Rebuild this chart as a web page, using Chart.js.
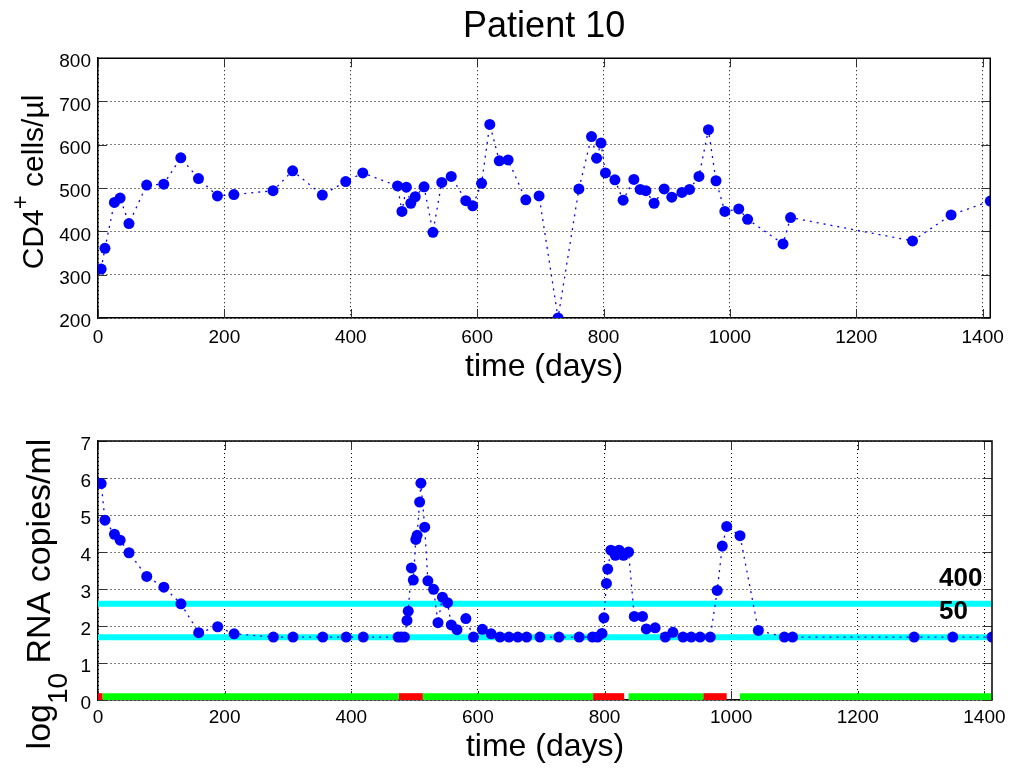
<!DOCTYPE html>
<html lang="en">
<head>
<meta charset="UTF-8" />
<title>Patient 10</title>
<script src="https://cdn.jsdelivr.net/npm/chart.js@4.4.1/dist/chart.umd.min.js"></script>
<style>
  html, body { margin: 0; padding: 0; background: #fff; }
  #wrap { position: relative; width: 1012px; height: 771px; }
  .box { position: absolute; left: 0; width: 1012px; }
  #top-box { top: 0; height: 386px; }
  #bottom-box { top: 386px; height: 385px; }
</style>
</head>
<body>
<div id="wrap">
  <div class="box" id="top-box"><canvas id="cd4"></canvas></div>
  <div class="box" id="bottom-box"><canvas id="rna"></canvas></div>
</div>

<script>
// --- data ---
const dayTicks = [0, 200, 400, 600, 800, 1000, 1200, 1400];
const cd4Ticks = [200, 300, 400, 500, 600, 700, 800];
const rnaTicks = [0, 1, 2, 3, 4, 5, 6, 7];

const cd4Days = [5, 11, 26, 35, 49, 77, 104, 131, 159, 189, 215, 277, 308, 355, 392,
  419, 474, 481, 488, 495, 502, 516, 530, 544, 559, 582, 593, 607, 620, 635,
  649, 677, 698, 728, 761, 781, 789, 796, 803, 818, 831, 848, 858, 867, 880,
  896, 908, 924, 936, 951, 966, 978, 992, 1014, 1028, 1084, 1096, 1289, 1350, 1412];
const cd4Values = [313, 361, 467, 477, 418, 507, 509, 570, 522, 482, 485, 494, 540, 484, 515,
  535, 505, 446, 502, 465, 480, 503, 398, 513, 527, 471, 459, 511, 647, 563,
  565, 473, 482, 200, 498, 619, 569, 604, 535, 519, 472, 520, 497, 494, 465,
  498, 479, 490, 497, 527, 635, 517, 446, 452, 428, 371, 432, 378, 438, 470];

const rnaDays = [0, 5, 11, 26, 35, 49, 77, 104, 131, 159, 189, 215, 277, 308, 355,
  392, 419, 474, 479, 484, 488, 490, 495, 498, 502, 504, 508, 510, 516, 521,
  530, 537, 544, 552, 558, 567, 581, 593, 607, 621, 635, 649, 663, 677, 698,
  728, 760, 781, 789, 796, 799, 803, 805, 810, 817, 823, 830, 838, 847, 860,
  866, 880, 896, 908, 924, 937, 951, 967, 978, 986, 993, 1014, 1043, 1084, 1097,
  1289, 1350, 1412];
const rnaValues = [5.86, 5.85, 4.86, 4.48, 4.32, 3.98, 3.34, 3.05, 2.6, 1.82, 1.98, 1.79, 1.7, 1.7, 1.7,
  1.7, 1.7, 1.7, 1.7, 1.7, 2.15, 2.4, 3.57, 3.24, 4.34, 4.45, 5.35, 5.86, 4.67, 3.22,
  2.99, 2.09, 2.78, 2.63, 2.03, 1.9, 2.2, 1.7, 1.91, 1.79, 1.7, 1.7, 1.7, 1.7, 1.7,
  1.7, 1.7, 1.7, 1.7, 1.8, 2.22, 3.15, 3.54, 4.05, 3.91, 4.05, 3.91, 4.0, 2.26, 2.26,
  1.92, 1.95, 1.7, 1.83, 1.7, 1.7, 1.7, 1.7, 2.96, 4.16, 4.69, 4.44, 1.88, 1.7, 1.7,
  1.7, 1.7, 1.7];

// detection limits (copies/ml)
const limitCopies = [400, 50];
const limitLabels = ['400', '50'];

// therapy bar along the bottom axis
const therapyStart = [0, 7, 475, 513, 782, 838, 956, 1014];
const therapyEnd   = [7, 475, 513, 782, 831, 956, 993, 1412];
const therapyState = ['off', 'on', 'off', 'on', 'off', 'on', 'off', 'on'];

const dayMax = 1412;
const FONT = '"Liberation Sans", Arial, Helvetica, sans-serif';

// y labels need super/subscripts, so they are drawn piece by piece
const yLabels = {
  cd4: { x: 43, y: 182, parts: [['CD4', 30, 0], ['+', 24, -15], [' cells/\u00b5l', 30, 0]] },
  rna: { x: 50, y: 208, parts: [['log', 34, 0], ['10', 28, 17], [' RNA copies/ml', 34, 0]] }
};

// frame, inward ticks, y label, limit labels
const framePlugin = {
  id: 'frame',
  beforeDatasetsDraw(chart) {
    const { ctx, chartArea: a, scales: { x, y } } = chart;
    ctx.save();
    ctx.strokeStyle = '#333';
    ctx.lineWidth = 1;
    ctx.setLineDash([]);
    ctx.beginPath();
    x.ticks.forEach(t => {
      const px = Math.round(x.getPixelForValue(t.value)) + 0.5;
      ctx.moveTo(px, a.bottom); ctx.lineTo(px, a.bottom - 9);
      ctx.moveTo(px, a.top); ctx.lineTo(px, a.top + 9);
    });
    y.ticks.forEach(t => {
      const py = Math.round(y.getPixelForValue(t.value)) + 0.5;
      ctx.moveTo(a.left, py); ctx.lineTo(a.left + 9, py);
      ctx.moveTo(a.right, py); ctx.lineTo(a.right - 9, py);
    });
    ctx.stroke();
    ctx.restore();
  },
  afterDraw(chart) {
    const { ctx, chartArea: a, scales: { y } } = chart;
    const lab = yLabels[chart.canvas.id];
    ctx.save();
    ctx.strokeStyle = '#000';
    ctx.lineWidth = 1.5;
    ctx.setLineDash([]);
    ctx.beginPath();
    ctx.moveTo(a.left, a.top); ctx.lineTo(a.right, a.top); ctx.lineTo(a.right, a.bottom);
    ctx.stroke();
    ctx.restore();

    ctx.save();
    ctx.fillStyle = '#000';
    ctx.textAlign = 'left';
    ctx.textBaseline = 'alphabetic';
    ctx.translate(lab.x, lab.y);
    ctx.rotate(-Math.PI / 2);
    let total = 0;
    lab.parts.forEach(([txt, size]) => {
      ctx.font = size + 'px ' + FONT;
      total += ctx.measureText(txt).width;
    });
    let cx = -total / 2;
    lab.parts.forEach(([txt, size, shift]) => {
      ctx.font = size + 'px ' + FONT;
      ctx.fillText(txt, cx, shift);
      cx += ctx.measureText(txt).width;
    });
    ctx.restore();

    if (chart.canvas.id === 'rna') {
      ctx.save();
      ctx.fillStyle = '#000';
      ctx.font = 'bold 26px ' + FONT;
      ctx.textAlign = 'left';
      ctx.textBaseline = 'alphabetic';
      limitCopies.forEach((c, i) => {
        const py = y.getPixelForValue(Math.log10(c));
        ctx.fillText(limitLabels[i], a.right - 53, py - 18);
      });
      ctx.restore();
    }
  }
};

function xScale(tickPad, axisHeight) {
  return {
    type: 'linear', position: 'bottom', min: 0, max: dayMax,
    afterBuildTicks: s => { s.ticks = dayTicks.map(v => ({ value: v })); },
    afterFit: s => { s.height = axisHeight; },
    ticks: {
      color: '#000', font: { family: FONT, size: 19 }, padding: tickPad,
      maxRotation: 0, autoSkip: false, callback: v => String(v)
    },
    grid: { color: '#000', lineWidth: 1, drawTicks: false },
    border: { display: true, color: '#000', width: 1.5, dash: [1, 3] },
    title: { display: true, text: 'time (days)', color: '#000', font: { family: FONT, size: 32 }, padding: 0 }
  };
}

function yScale(min, max, ticks) {
  return {
    min, max,
    afterBuildTicks: s => { s.ticks = ticks.map(v => ({ value: v })); },
    afterFit: s => { s.width = 98; },
    ticks: { color: '#000', font: { family: FONT, size: 19 }, padding: 7, labelOffset: 4, callback: v => String(v) },
    grid: { color: '#000', lineWidth: 1, drawTicks: false },
    border: { display: true, color: '#000', width: 1.5, dash: [1, 3] }
  };
}

const seriesStyle = {
  borderColor: '#0000ff', borderWidth: 1.3, borderDash: [2, 5],
  pointRadius: 5.5, pointBackgroundColor: '#0000ff', pointBorderWidth: 0,
  pointHoverRadius: 5.5, tension: 0, fill: false
};

new Chart(document.getElementById('cd4'), {
  type: 'line',
  data: {
    datasets: [{
      ...seriesStyle,
      data: cd4Days.map((d, i) => ({ x: d, y: cd4Values[i] }))
    }]
  },
  options: {
    responsive: true, maintainAspectRatio: false, animation: false,
    layout: { padding: { left: 0, right: 20, top: 0, bottom: 0 } },
    scales: { x: xScale(8, 68), y: yScale(200, 800, cd4Ticks) },
    plugins: {
      legend: { display: false }, tooltip: { enabled: false },
      title: {
        display: true, text: 'Patient 10', fullSize: false, color: '#000',
        font: { family: FONT, size: 36, weight: 'normal' }, padding: { top: 5, bottom: 10 }
      }
    }
  },
  plugins: [framePlugin]
});

const barLevel = 0.09;
const rnaSets = [{
  ...seriesStyle,
  data: rnaDays.map((d, i) => ({ x: d, y: rnaValues[i] }))
}];
limitCopies.forEach(c => {
  rnaSets.push({
    data: [{ x: 0, y: Math.log10(c) }, { x: dayMax, y: Math.log10(c) }],
    borderColor: '#00ffff', borderWidth: 6, pointRadius: 0, fill: false
  });
});
therapyStart.forEach((s, i) => {
  rnaSets.push({
    data: [{ x: s, y: barLevel }, { x: therapyEnd[i], y: barLevel }],
    borderColor: therapyState[i] === 'on' ? '#00ff00' : '#ff0000',
    borderWidth: 7, pointRadius: 0, fill: false, borderCapStyle: 'butt'
  });
});

new Chart(document.getElementById('rna'), {
  type: 'line',
  data: { datasets: rnaSets },
  options: {
    responsive: true, maintainAspectRatio: false, animation: false,
    layout: { padding: { left: 0, right: 20, top: 55, bottom: 5 } },
    scales: { x: xScale(6, 66), y: yScale(0, 7, rnaTicks) },
    plugins: { legend: { display: false }, tooltip: { enabled: false } }
  },
  plugins: [framePlugin]
});
</script>
</body>
</html>
